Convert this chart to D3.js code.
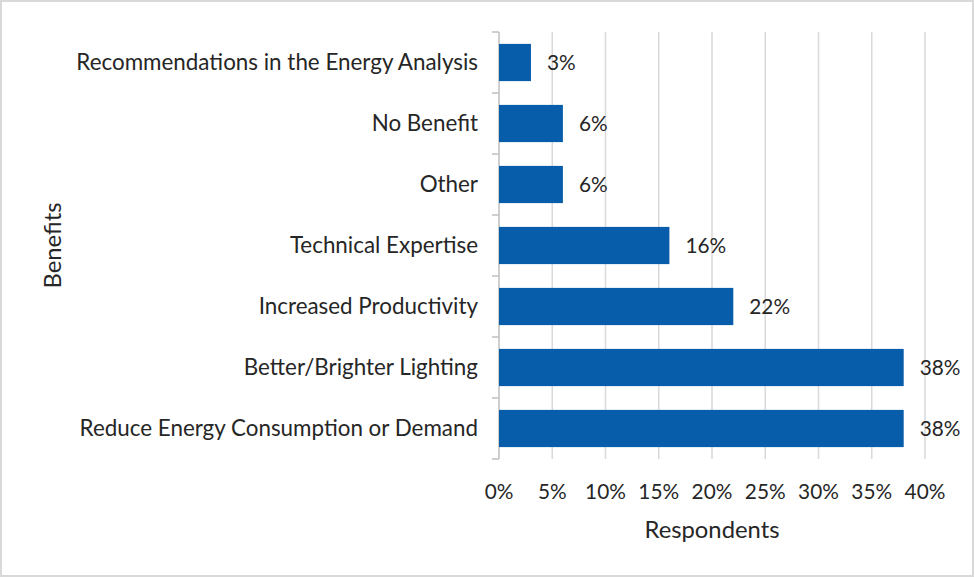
<!DOCTYPE html>
<html>
<head>
<meta charset="utf-8">
<script src="https://cdn.jsdelivr.net/npm/d3@7"></script>
<style>
  body { margin: 0; background: #fff; }
  text { font-family: Lato, "Open Sans", sans-serif; fill: #262626; }
</style>
</head>
<body>
<div class="content"></div>
<script>
const categories = [
  'Recommendations in the Energy Analysis',
  'No Benefit',
  'Other',
  'Technical Expertise',
  'Increased Productivity',
  'Better/Brighter Lighting',
  'Reduce Energy Consumption or Demand'
];
const values = [0.03, 0.06, 0.06, 0.16, 0.22, 0.38, 0.38];
const tickValues = [0, 0.05, 0.10, 0.15, 0.20, 0.25, 0.30, 0.35, 0.40];

const [svgWidth, svgHeight] = [974, 577];
const svg = d3.select('.content')
  .append('svg')
  .attr('width', svgWidth)
  .attr('height', svgHeight);

const plot = {left: 499, right: 925, top: 32, bottom: 459};
const numSize = 20.8, catSize = 22.4, titleSize = 23.8;

// chart frame
svg.append('rect')
  .attr('x', 1).attr('y', 1)
  .attr('width', svgWidth - 2).attr('height', svgHeight - 2)
  .attr('fill', '#fff')
  .attr('stroke', '#d9d9d9')
  .attr('stroke-width', 2);

const x = d3.scaleLinear()
  .domain([0, 0.4])
  .range([plot.left, plot.right]);
const y = d3.scaleBand()
  .domain(categories)
  .range([plot.top, plot.bottom])
  .paddingInner(0.39)
  .paddingOuter(0.195);

// gridlines
svg.selectAll('line.grid')
  .data(tickValues.slice(1))
  .enter()
  .append('line')
  .classed('grid', true)
  .attr('x1', d => x(d)).attr('x2', d => x(d))
  .attr('y1', plot.top).attr('y2', plot.bottom)
  .attr('stroke', '#d9d9d9')
  .attr('stroke-width', 1.5);

// y axis line with category ticks
svg.append('line')
  .attr('x1', plot.left).attr('x2', plot.left)
  .attr('y1', plot.top).attr('y2', plot.bottom)
  .attr('stroke', '#bfbfbf')
  .attr('stroke-width', 1.5);
const step = y.step();
svg.selectAll('line.ctick')
  .data(d3.range(categories.length + 1))
  .enter()
  .append('line')
  .classed('ctick', true)
  .attr('x1', plot.left - 7).attr('x2', plot.left)
  .attr('y1', i => plot.top + i * step).attr('y2', i => plot.top + i * step)
  .attr('stroke', '#bfbfbf')
  .attr('stroke-width', 1.5);

// bars
svg.selectAll('rect.bar')
  .data(values)
  .enter()
  .append('rect')
  .classed('bar', true)
  .attr('x', x(0))
  .attr('y', (d, i) => y(categories[i]))
  .attr('width', d => x(d) - x(0))
  .attr('height', y.bandwidth())
  .attr('fill', '#085dab');

// data labels
svg.selectAll('text.val')
  .data(values)
  .enter()
  .append('text')
  .classed('val', true)
  .attr('x', d => x(d) + 16)
  .attr('y', (d, i) => y(categories[i]) + y.bandwidth() / 2)
  .attr('dy', '0.35em')
  .attr('font-size', numSize)
  .text(d => d3.format('.0%')(d));

// category labels
svg.selectAll('text.cat')
  .data(categories)
  .enter()
  .append('text')
  .classed('cat', true)
  .attr('x', plot.left - 21)
  .attr('y', d => y(d) + y.bandwidth() / 2)
  .attr('dy', '0.35em')
  .attr('text-anchor', 'end')
  .attr('font-size', catSize)
  .text(d => d);

// x tick labels
svg.selectAll('text.xtick')
  .data(tickValues)
  .enter()
  .append('text')
  .classed('xtick', true)
  .attr('x', d => x(d))
  .attr('y', 492)
  .attr('dy', '0.35em')
  .attr('text-anchor', 'middle')
  .attr('font-size', numSize)
  .text(d => d3.format('.0%')(d));

// axis titles
svg.append('text')
  .attr('x', (plot.left + plot.right) / 2)
  .attr('y', 530)
  .attr('dy', '0.35em')
  .attr('text-anchor', 'middle')
  .attr('font-size', titleSize)
  .text('Respondents');
svg.append('text')
  .attr('transform', `translate(53, ${(plot.top + plot.bottom) / 2}) rotate(-90)`)
  .attr('dy', '0.35em')
  .attr('text-anchor', 'middle')
  .attr('font-size', titleSize)
  .text('Benefits');
</script>
</body>
</html>
